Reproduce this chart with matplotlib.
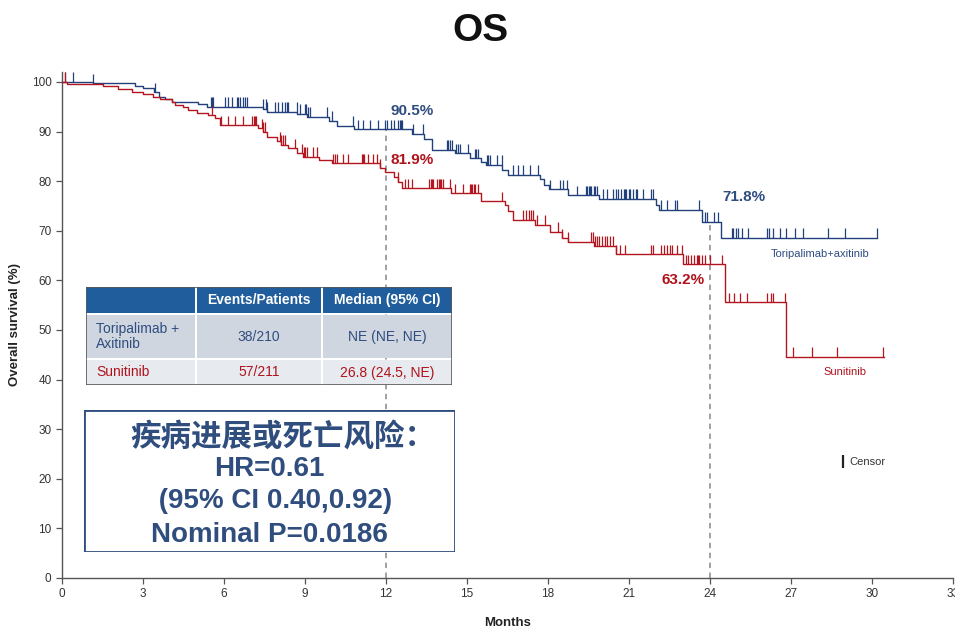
"""Kaplan-Meier plot of overall survival, toripalimab + axitinib vs sunitinib."""
import numpy as np
import matplotlib
matplotlib.use("Agg")
import matplotlib.pyplot as plt
from matplotlib.patches import Rectangle

plt.rcParams['font.family'] = ['Liberation Sans', 'Noto Sans CJK SC', 'DejaVu Sans']

BLUE = '#22417c'
BLUE_TXT = '#2f4d80'
RED = '#b3161f'
RED_TXT = '#b0121b'

# Survival steps (months, % alive after the step)
tori_t = [0, 1.15, 2.7, 3.0, 3.4, 3.6, 3.8, 4.06, 5.05, 5.36, 7.45, 7.6, 8.7, 9.06,
          9.9, 10.2, 10.8, 12.95, 13.4, 13.7, 14.56, 15.1, 15.5, 15.7, 16.3, 16.5,
          17.7, 17.85, 18.05, 18.75, 19.9, 22.0, 22.1, 23.7, 24.4, 30.2]
tori_s = [100, 99.7, 99.2, 98.7, 97.9, 97.0, 96.6, 96.0, 95.5, 95.0, 94.6, 94.0, 93.6, 93.0,
          92.2, 91.2, 90.5, 89.6, 88.4, 86.3, 85.6, 84.6, 83.9, 83.3, 82.3, 81.3,
          80.4, 79.2, 78.4, 77.2, 76.5, 75.2, 74.2, 71.8, 68.6, 68.6]

suni_t = [0, 0.2, 1.53, 2.08, 2.58, 3.01, 3.38, 3.63, 4.06, 4.19, 4.49, 4.68, 4.99, 5.42,
          5.67, 5.85, 7.27, 7.45, 7.6, 7.95, 8.1, 8.38, 8.69, 8.94, 9.5, 9.99, 11.78,
          11.95, 12.3, 12.45, 12.6, 14.4, 15.5, 16.4, 16.5, 16.7, 17.5, 18.07, 18.5,
          18.75, 19.7, 20.5, 23.0, 24.55, 26.8, 30.45]
suni_s = [100, 99.5, 99.1, 98.5, 98.0, 97.5, 97.0, 96.5, 96.0, 95.4, 94.9, 94.4, 93.7, 93.3,
          92.7, 91.3, 90.7, 90.0, 88.8, 88.0, 87.3, 86.6, 85.6, 84.9, 84.3, 83.6, 82.6,
          81.9, 80.9, 79.9, 78.6, 77.6, 75.9, 75.2, 73.9, 72.2, 71.2, 69.8, 68.5,
          67.8, 67.0, 65.3, 63.2, 55.6, 44.6, 44.6]

# Censoring times (months)
tori_cens = [0.1, 0.4, 1.16, 3.44, 5.52, 5.56, 5.6, 6.04, 6.16, 6.28, 6.47, 6.53, 6.59,
             6.72, 6.78, 6.84, 7.45, 7.55, 7.6, 7.89, 8.01, 8.14, 8.26, 8.32, 8.38, 8.69,
             8.81, 9.0, 9.05, 9.1, 9.18, 9.8, 9.99, 10.79, 10.97, 11.16, 11.41, 11.72,
             11.96, 12.02, 12.2, 12.3, 12.45, 12.5, 12.55, 12.58, 13.0, 13.38, 14.25,
             14.3, 14.38, 14.43, 14.6, 14.65, 14.74, 15.05, 15.3, 15.35, 15.4, 15.73,
             15.78, 15.85, 16.1, 16.28, 16.7, 16.9, 17.09, 17.33, 17.64, 18.07, 18.44,
             18.57, 18.7, 19.06, 19.4, 19.45, 19.5, 19.55, 19.6, 19.7, 19.75, 19.8, 20.05,
             20.17, 20.4, 20.5, 20.6, 20.7, 20.8, 20.85, 20.9, 21.0, 21.05, 21.15, 21.25,
             21.3, 21.5, 21.8, 21.9, 22.2, 22.4, 22.7, 22.77, 23.6, 23.8, 23.9, 24.15,
             24.3, 24.8, 24.85, 24.95, 25.05, 25.2, 25.4, 26.1, 26.2, 26.35, 26.6, 26.8,
             27.15, 27.46, 28.38, 29.0, 30.17]
suni_cens = [0.1, 5.54, 5.9, 6.16, 6.4, 6.72, 7.02, 7.1, 7.15, 7.2, 7.4, 7.45, 7.5, 8.07,
             8.12, 8.2, 8.26, 8.63, 8.88, 8.95, 9.0, 9.06, 9.3, 9.43, 10.05, 10.1, 10.2,
             10.4, 10.6, 11.1, 11.15, 11.2, 11.33, 11.5, 11.65, 11.78, 12.46, 12.7, 12.82,
             12.95, 13.6, 13.65, 13.7, 13.75, 13.88, 13.95, 14.0, 14.05, 14.1, 14.37,
             14.56, 14.86, 15.1, 15.15, 15.2, 15.25, 15.3, 15.42, 16.28, 17.08, 17.18,
             17.28, 17.38, 17.46, 17.6, 17.9, 18.38, 18.5, 18.75, 19.6, 19.67, 19.74,
             19.8, 19.9, 20.0, 20.1, 20.2, 20.3, 20.4, 20.5, 20.68, 20.85, 21.8, 21.9,
             22.2, 22.3, 22.4, 22.5, 22.58, 22.77, 22.95, 23.1, 23.2, 23.3, 23.4, 23.5,
             23.55, 23.6, 23.7, 23.8, 24.0, 24.43, 24.7, 24.9, 25.1, 25.36, 26.1, 26.25,
             26.35, 26.78, 27.09, 27.77, 28.69, 30.42]

landmarks = [12, 24]
tori_landmark = [90.5, 71.8]
suni_landmark = [81.9, 63.2]

table_cols = ['', 'Events/Patients', 'Median (95% CI)']
table_arms = ['Toripalimab +\nAxitinib', 'Sunitinib']
table_events = ['38/210', '57/211']
table_median = ['NE (NE, NE)', '26.8 (24.5, NE)']

hr_lines = ['疾病进展或死亡风险：', 'HR=0.61', ' (95% CI 0.40,0.92)', 'Nominal P=0.0186']


def level_at(times, surv, x):
    idx = np.searchsorted(times, x, side='right') - 1
    return np.asarray(surv)[idx]


fig = plt.figure(figsize=(9.55, 6.28), dpi=100)
ax = fig.add_axes([62 / 955, 50 / 628, 891 / 955, 506 / 628])

for t, s, cens, col in [(tori_t, tori_s, tori_cens, BLUE), (suni_t, suni_s, suni_cens, RED)]:
    ax.step(t, s, where='post', color=col, lw=1.0, zorder=3)
    base = level_at(t, s, cens)
    ax.vlines(cens, base, base + 1.9, color=col, lw=0.9, zorder=3)

# landmark guides up to the upper curve
for m, top in zip(landmarks, tori_landmark):
    ax.vlines(m, 0, top, color='#9a9a9a', lw=1.3, linestyles=(0, (3, 2.5)), zorder=2)

ax.text(landmarks[0] + 0.15, tori_landmark[0] + 3.6, f'{tori_landmark[0]}%', color=BLUE_TXT,
        fontsize=11, fontweight='bold', ha='left', va='center')
ax.text(landmarks[0] + 0.15, suni_landmark[0] + 2.4, f'{suni_landmark[0]}%', color=RED_TXT,
        fontsize=11, fontweight='bold', ha='left', va='center')
ax.text(landmarks[1] + 0.45, tori_landmark[1] + 5.0, f'{tori_landmark[1]}%', color=BLUE_TXT,
        fontsize=11, fontweight='bold', ha='left', va='center')
ax.text(landmarks[1] - 0.2, suni_landmark[1] - 3.1, f'{suni_landmark[1]}%', color=RED_TXT,
        fontsize=11, fontweight='bold', ha='right', va='center')

ax.text(28.07, 65.4, 'Toripalimab+axitinib', color=BLUE_TXT, fontsize=8, ha='center', va='center')
ax.text(29.0, 41.5, 'Sunitinib', color=RED_TXT, fontsize=8, ha='center', va='center')

# censor legend
ax.vlines(28.93, 22.1, 24.8, color='#222222', lw=1.6)
ax.text(29.15, 23.4, 'Censor', color='#333333', fontsize=8, ha='left', va='center')

ax.set_xlim(0, 33)
ax.set_ylim(0, 102)
ax.set_xticks(np.arange(0, 34, 3))
ax.set_yticks(np.arange(0, 101, 10))
for side in ['top', 'right']:
    ax.spines[side].set_visible(False)
for side in ['left', 'bottom']:
    ax.spines[side].set_color('#555555')
    ax.spines[side].set_linewidth(1.0)
ax.tick_params(direction='out', length=4, width=0.9, color='#555555',
               labelsize=8.5, labelcolor='#333333')
ax.set_xlabel('Months', fontsize=9.5, fontweight='bold', labelpad=12, color='#222222')
ax.set_ylabel('Overall survival (%)', fontsize=9.5, fontweight='bold', labelpad=8,
              color='#222222')

fig.text(480 / 955, 1 - 31 / 628, 'OS', fontsize=28, fontweight='bold', ha='center',
         va='center', color='#111111')

# summary table
tab = fig.add_axes([86 / 955, 1 - 385 / 628, 366 / 955, 98 / 628])
tab.set_xlim(0, 366)
tab.set_ylim(98, 0)
tab.axis('off')
col_x = [(0, 109), (111, 235), (237, 366)]
row_y = [(0, 26), (28, 71), (73, 98)]
row_fill = ['#1f5d9c', '#d0d6df', '#e7eaef']
for (y0, y1), fill in zip(row_y, row_fill):
    for x0, x1 in col_x:
        tab.add_patch(Rectangle((x0, y0), x1 - x0, y1 - y0, facecolor=fill, edgecolor='none'))
tab.add_patch(Rectangle((0, 0), 366, 98, facecolor='none', edgecolor='#5a5a5a', lw=1.2))
for (x0, x1), head in zip(col_x, table_cols):
    tab.text((x0 + x1) / 2, 13, head, color='white', fontsize=10, fontweight='bold',
             ha='center', va='center')
for (y0, y1), arm, ev, med, col in zip(row_y[1:], table_arms, table_events, table_median,
                                       [BLUE_TXT, RED_TXT]):
    yc = (y0 + y1) / 2
    tab.text(10, yc, arm, color=col, fontsize=10, ha='left', va='center', linespacing=1.1)
    tab.text(sum(col_x[1]) / 2, yc, ev, color=col, fontsize=10, ha='center', va='center')
    tab.text(sum(col_x[2]) / 2, yc, med, color=col, fontsize=10, ha='center', va='center')

# hazard ratio box
box = fig.add_axes([84 / 955, 1 - 552 / 628, 371 / 955, 142 / 628])
box.set_xlim(0, 371)
box.set_ylim(142, 0)
box.axis('off')
box.add_patch(Rectangle((0, 0), 371, 142, facecolor='white', edgecolor='#2f4d80', lw=2.0))
line_y = [28, 59, 91, 125]
line_x = [199, 185, 188, 185]
line_size = [22, 20, 20, 20]
for txt, x, y, size in zip(hr_lines, line_x, line_y, line_size):
    fam = ['Noto Sans CJK SC', 'Liberation Sans'] if txt == hr_lines[0] else ['Liberation Sans']
    box.text(x, y, txt, color='#2f4d7d', fontsize=size, fontweight='bold', ha='center',
             va='center', family=fam)

fig.savefig('out.png', dpi=100)
